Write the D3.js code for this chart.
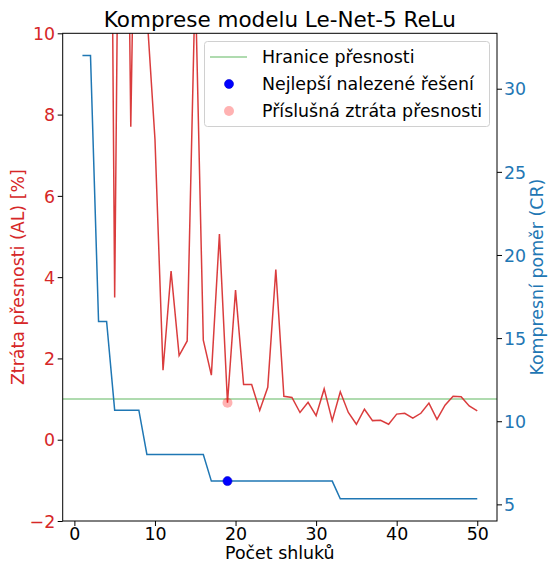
<!DOCTYPE html>
<html><head><meta charset="utf-8">
<script src="https://cdn.jsdelivr.net/npm/d3@7"></script>
<style>
body{margin:0;background:#fff;}
text{font-family:"DejaVu Sans",sans-serif;}
</style></head>
<body>
<svg id="chart" width="548" height="565"></svg>
<script>
// ---- data ----
const clusters = [1,2,3,4,5,6,7,8,9,10,11,12,13,14,15,16,17,18,19,20,21,22,23,24,25,26,27,28,29,30,31,32,33,34,35,36,37,38,39,40,41,42,43,44,45,46,47,48,49,50];
const accuracyLoss = [75,62,45,30.5,3.5,25,7.7,20,10.5,7.4,1.71,4.15,2.07,2.43,11.3,2.45,1.59,5.06,0.91,3.68,1.36,1.36,0.72,1.29,4.19,1.07,1.04,0.67,0.92,0.59,1.25,0.47,1.18,0.67,0.38,0.75,0.47,0.48,0.38,0.63,0.65,0.53,0.65,0.9,0.5,0.85,1.07,1.06,0.83,0.71];
const compressionRatio = [32,32,16,16,10.667,10.667,10.667,10.667,8,8,8,8,8,8,8,8,6.4,6.4,6.4,6.4,6.4,6.4,6.4,6.4,6.4,6.4,6.4,6.4,6.4,6.4,6.4,6.4,5.333,5.333,5.333,5.333,5.333,5.333,5.333,5.333,5.333,5.333,5.333,5.333,5.333,5.333,5.333,5.333,5.333,5.333];
const accuracyThreshold = 1.0;
const bestClusters = 19;
const bestCR = 6.4;
const bestAL = 0.91;
const xTicks = [0,10,20,30,40,50];
const leftTicks = [-2,0,2,4,6,8,10];
const rightTicks = [5,10,15,20,25,30];
const legendLabels = ["Hranice přesnosti","Nejlepší nalezené řešení","Příslušná ztráta přesnosti"];
const titleText = "Komprese modelu Le-Net-5 ReLu";
const xLabel = "Počet shluků";
const leftLabel = "Ztráta přesnosti (AL) [%]";
const rightLabel = "Kompresní poměr (CR)";

// ---- layout ----
const L = 62.7, R = 497, T = 33.3, B = 521;
const RED = "#d62728", BLUE = "#1f77b4", PINK = "#ff0000", FS = 17.4;
const svg = d3.select("#chart");

const x = d3.scaleLinear().domain([-1.45, 52.45]).range([L, R]);
const yL = d3.scaleLinear().domain([-2, 10]).range([B, T]);
const yR = d3.scaleLinear().domain([4.0, 33.333]).range([B, T]);

svg.append("defs").append("clipPath").attr("id","clip")
  .append("rect").attr("x",L).attr("y",T).attr("width",R-L).attr("height",B-T);

const plot = svg.append("g").attr("clip-path","url(#clip)");

// threshold line
plot.append("line").attr("x1",L).attr("x2",R)
  .attr("y1",yL(accuracyThreshold)).attr("y2",yL(accuracyThreshold))
  .attr("stroke","#2ca02c").attr("stroke-opacity",0.5).attr("stroke-width",1.5);

// red AL line
plot.append("path").datum(clusters.map((c,i)=>[c,accuracyLoss[i]]))
  .attr("d", d3.line().x(d=>x(d[0])).y(d=>yL(d[1])))
  .attr("fill","none").attr("stroke",RED).attr("stroke-width",1.5).attr("stroke-opacity",0.9);

// pink marker
plot.append("circle").attr("cx",x(bestClusters)).attr("cy",yL(bestAL)).attr("r",5)
  .attr("fill",PINK).attr("fill-opacity",0.3);

// blue CR line
plot.append("path").datum(clusters.map((c,i)=>[c,compressionRatio[i]]))
  .attr("d", d3.line().x(d=>x(d[0])).y(d=>yR(d[1])))
  .attr("fill","none").attr("stroke",BLUE).attr("stroke-width",1.5);

// blue marker
plot.append("circle").attr("cx",x(bestClusters)).attr("cy",yR(bestCR)).attr("r",4.5)
  .attr("fill","#0000ff").attr("stroke","#0000cc").attr("stroke-width",0.6);

// axes
function styleAxis(g, color){
  g.select(".domain").remove();
  g.selectAll(".tick line").attr("stroke","#000").attr("stroke-width",1);
  g.selectAll(".tick text").attr("fill",color).attr("font-size",FS).attr("font-family","DejaVu Sans");
}
const fmt = d => d < 0 ? "\u2212" + Math.abs(d) : String(d);
const gx = svg.append("g").attr("transform",`translate(0,${B})`)
  .call(d3.axisBottom(x).tickValues(xTicks).tickSize(5).tickPadding(1.5).tickFormat(fmt));
styleAxis(gx,"#000");
const gl = svg.append("g").attr("transform",`translate(${L},0)`)
  .call(d3.axisLeft(yL).tickValues(leftTicks).tickSize(5).tickPadding(2.5).tickFormat(fmt));
styleAxis(gl,RED);
gl.selectAll(".tick text").attr("dy","0.36em");
const gr = svg.append("g").attr("transform",`translate(${R},0)`)
  .call(d3.axisRight(yR).tickValues(rightTicks).tickSize(5).tickPadding(2).tickFormat(fmt));
styleAxis(gr,BLUE);
gr.selectAll(".tick text").attr("dy","0.36em");

// frame
svg.append("rect").attr("x",L).attr("y",T).attr("width",R-L).attr("height",B-T)
  .attr("fill","none").attr("stroke","#000").attr("stroke-width",1);

// title & labels
svg.append("text").attr("x",(L+R)/2).attr("y",27).attr("text-anchor","middle")
  .attr("font-size",21.5).attr("fill","#000").text(titleText);
svg.append("text").attr("x",(L+R)/2).attr("y",559).attr("text-anchor","middle")
  .attr("font-size",FS).attr("fill","#000").text(xLabel);
svg.append("text").attr("transform",`translate(24,${(T+B)/2}) rotate(-90)`).attr("text-anchor","middle")
  .attr("font-size",FS).attr("fill",RED).text(leftLabel);
svg.append("text").attr("transform",`translate(543,${(T+B)/2}) rotate(-90)`).attr("text-anchor","middle")
  .attr("font-size",FS).attr("fill",BLUE).text(rightLabel);

// legend
const lg = svg.append("g");
lg.append("rect").attr("x",204.5).attr("y",41.5).attr("width",285).attr("height",85).attr("rx",3)
  .attr("fill","#fff").attr("fill-opacity",0.8).attr("stroke","#d0d0d0").attr("stroke-width",1);
const ly = [57, 84, 111];
lg.append("line").attr("x1",210).attr("x2",247).attr("y1",ly[0]).attr("y2",ly[0])
  .attr("stroke","#2ca02c").attr("stroke-opacity",0.5).attr("stroke-width",1.5);
lg.append("circle").attr("cx",229).attr("cy",ly[1]).attr("r",4.5).attr("fill","#0000ff")
  .attr("stroke","#0000cc").attr("stroke-width",0.6);
lg.append("circle").attr("cx",229).attr("cy",ly[2]).attr("r",5).attr("fill",PINK).attr("fill-opacity",0.3);
legendLabels.forEach((t,i)=>{
  lg.append("text").attr("x",262).attr("y",ly[i]).attr("dy","0.36em")
    .attr("font-size",FS).attr("fill","#000").text(t);
});
</script>
</body></html>
